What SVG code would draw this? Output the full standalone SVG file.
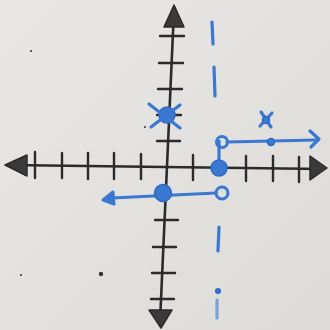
<svg xmlns="http://www.w3.org/2000/svg" width="330" height="330" viewBox="0 0 330 330">
<defs>
<linearGradient id="bg" x1="0" y1="0" x2="1" y2="1">
<stop offset="0" stop-color="#e9e8e6"/>
<stop offset="1" stop-color="#dcdbd8"/>
</linearGradient>
<style>
.ax{stroke:#2b2b2b;stroke-width:2.6;fill:none;stroke-linecap:round}
.tk{stroke:#2b2b2b;stroke-width:2.4;stroke-linecap:round}
.ah{fill:#3a3a3a;stroke:#2b2b2b;stroke-width:1.5;stroke-linejoin:round}
.bl{stroke:#3a78d2;stroke-width:3.2;fill:none;stroke-linecap:round;stroke-linejoin:round}
.bf{fill:#3a78d2;stroke:#2f6bc4;stroke-width:1.5}
.bo{fill:none;stroke:#3a78d2;stroke-width:3}
</style>
</defs>
<rect width="330" height="330" fill="url(#bg)"/>

<g id="axes">
<line class="ax" x1="8" y1="165" x2="322" y2="169"/>
<line class="ax" x1="174" y1="10" x2="160" y2="322"/>
<polygon class="ah" points="5,165 27,155 27,176"/>
<polygon class="ah" points="327,168 310,156 310,180"/>
<polygon class="ah" points="174,5 164,27 184,27"/>
<polygon class="ah" points="161,328 149,310 172,310"/>
<g id="xticks">
<line class="tk" x1="35" y1="152" x2="35" y2="178"/>
<line class="tk" x1="62" y1="153" x2="62" y2="178"/>
<line class="tk" x1="88" y1="153" x2="88" y2="179"/>
<line class="tk" x1="114" y1="153" x2="114" y2="179"/>
<line class="tk" x1="141" y1="154" x2="141" y2="179"/>
<line class="tk" x1="193" y1="155" x2="193" y2="180"/>
<line class="tk" x1="246" y1="156" x2="246" y2="181"/>
<line class="tk" x1="273" y1="156" x2="273" y2="181"/>
<line class="tk" x1="299" y1="157" x2="299" y2="182"/>
</g>
<g id="yticks">
<line class="tk" x1="160" y1="36" x2="184" y2="36"/>
<line class="tk" x1="159" y1="63" x2="183" y2="63"/>
<line class="tk" x1="158" y1="89" x2="182" y2="89"/>
<line class="tk" x1="157" y1="115" x2="181" y2="115"/>
<line class="tk" x1="157" y1="141" x2="180" y2="141"/>
<line class="tk" x1="155" y1="220" x2="178" y2="220"/>
<line class="tk" x1="153" y1="247" x2="176" y2="247"/>
<line class="tk" x1="152" y1="273" x2="175" y2="273"/>
<line class="tk" x1="151" y1="299" x2="174" y2="299"/>
</g>
</g>

<g id="connectors">
<path class="bl" d="M212,22 L213,44"/>
<path class="bl" d="M214,67 L215,96"/>
<path class="bl" d="M219,141 L219,168"/>
<path class="bl" d="M219,227 L218,251"/>
<path class="bl" d="M217,300 L217,318" stroke-width="1.2" opacity="0.6"/>
<path class="bl" d="M227,142 L316,140"/>
<path class="bl" d="M310,131 L319,139 L311,147"/>
<path class="bl" d="M216,193 L112,198"/>
<path d="M103,200 L113,192 L114,204 Z" fill="#3a78d2" stroke="#3a78d2" stroke-width="3" stroke-linejoin="round"/>
</g>

<g id="p-yaxis-cross">
<circle class="bf" cx="167" cy="115" r="8"/>
<path class="bl" d="M149,104 L180,128 M180,105 L151,127"/>
</g>
<g id="p-open-upper">
<circle class="bo" cx="222" cy="142" r="5.5"/>
</g>
<g id="p-dot-ray">
<circle class="bf" cx="271" cy="142" r="3.5"/>
</g>
<g id="p-star">
<path class="bl" d="M261,112 L271,127 M272,113 L260,126"/>
<circle class="bf" cx="266" cy="120" r="3.5"/>
</g>
<g id="p-filled-axis">
<circle class="bf" cx="219" cy="168" r="8"/>
</g>
<g id="p-filled-origin">
<circle class="bf" cx="163" cy="193" r="8.5"/>
</g>
<g id="p-open-lower">
<circle class="bo" cx="222" cy="193" r="6"/>
</g>
<g id="p-dashdot">
<circle class="bf" cx="218" cy="291" r="2.3"/>
</g>

<g id="specks" fill="#333">
<circle cx="31" cy="51" r="1"/>
<circle cx="21" cy="275" r="1"/>
<circle cx="101" cy="274" r="2.2"/>
<circle cx="145" cy="127" r="1"/>
</g>
</svg>
